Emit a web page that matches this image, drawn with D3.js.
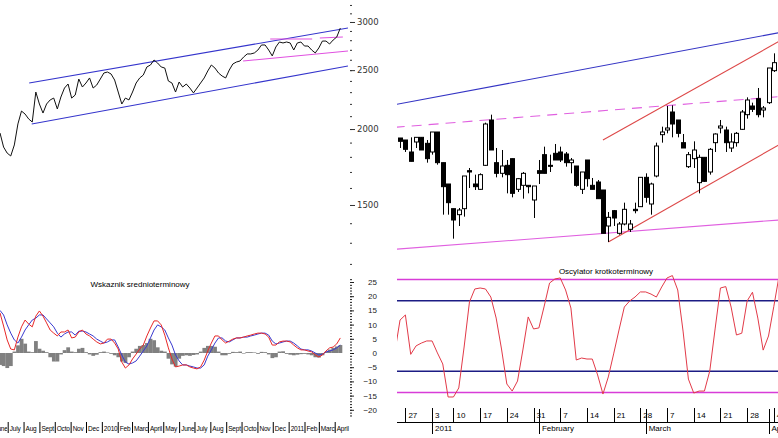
<!DOCTYPE html>
<html>
<head>
<meta charset="utf-8">
<script src="https://cdn.jsdelivr.net/npm/d3@7"></script>
<style>
  html, body { margin: 0; padding: 0; background: #fff; }
  svg { display: block; font-family: "Liberation Sans", Arial, sans-serif; }
</style>
</head>
<body>
<div id="chart"></div>
<script>
// ---- long view: weekly closes from 2009-06-15 ----
var weekStart = '2009-06-15';
var priceWeekly = [1970, 1868, 1826, 1806, 1883, 2039, 2141, 2117, 2078, 2054,
  2301, 2199, 2125, 2199, 2233, 2249, 2158, 2258, 2336, 2372,
  2249, 2275, 2417, 2345, 2381, 2427, 2336, 2363, 2417, 2473,
  2482, 2464, 2408, 2301, 2199, 2249, 2233, 2301, 2381, 2427,
  2454, 2530, 2549, 2598, 2568, 2530, 2520, 2399, 2381, 2301,
  2390, 2345, 2372, 2336, 2293, 2336, 2381, 2427, 2492, 2549,
  2520, 2473, 2445, 2427, 2501, 2559, 2578, 2588, 2627, 2658,
  2658, 2668, 2698, 2750, 2750, 2698, 2638, 2729, 2781, 2771,
  2781, 2771, 2698, 2771, 2781, 2739, 2739, 2698, 2668, 2719,
  2791, 2791, 2760, 2802, 2834, 2932];
var macdMain = [14.1, 9.5, 4.6, 1.4, 1.1, 5.6, 9.2, 11.6, 10.2, 9.2,
  13.0, 14.8, 13.0, 10.6, 8.1, 7.0, 6.0, 7.4, 7.4, 8.1,
  5.3, 5.6, 7.4, 8.1, 6.7, 6.0, 4.9, 3.9, 3.2, 3.5,
  4.9, 4.9, 3.5, 1.4, -3.2, -5.3, -4.2, -2.1, -0.4, 1.4,
  2.8, 6.0, 8.8, 11.3, 11.3, 9.9, 6.3, 1.8, -2.1, -4.9,
  -4.6, -4.2, -4.2, -4.9, -5.3, -5.6, -4.9, -2.5, 0.7, 3.5,
  6.0, 6.0, 4.6, 3.5, 4.2, 4.9, 5.3, 5.3, 5.6, 6.0,
  6.3, 6.7, 7.0, 7.0, 6.7, 5.6, 2.8, 2.8, 3.9, 4.2,
  4.2, 3.9, 2.8, 1.8, 1.1, 1.1, 0.7, 0.4, -0.7, -1.4,
  -0.7, 0.7, 1.8, 2.1, 3.2, 5.3];
var macdSignal = [15.0, 13.4, 9.9, 7.0, 4.6, 3.5, 5.6, 8.1, 9.9, 11.6,
  12.3, 13.4, 13.4, 12.0, 10.6, 9.2, 7.0, 5.6, 6.7, 7.4,
  7.4, 6.3, 7.7, 7.7, 7.4, 6.7, 6.0, 4.9, 4.2, 3.5,
  3.9, 4.6, 4.6, 2.1, -0.7, -3.2, -3.9, -3.5, -2.8, -1.1,
  0.7, 2.5, 5.3, 8.1, 9.9, 9.2, 8.1, 5.3, 2.8, -0.7,
  -2.8, -4.2, -4.2, -4.6, -4.9, -5.3, -5.3, -4.2, -1.1, 1.1,
  3.5, 5.3, 5.3, 4.2, 3.9, 4.6, 5.3, 5.3, 5.6, 5.6,
  6.0, 6.3, 6.7, 7.0, 7.0, 6.3, 4.2, 3.2, 3.5, 3.9,
  4.2, 4.2, 3.5, 2.5, 1.4, 1.1, 1.1, 0.7, 0.0, -0.7,
  -0.4, 0.4, 0.7, 1.1, 1.8, 2.8];
var macdHist = [-4.2, -4.6, -5.3, -4.6, 0.5, 2.7, 5.0, 3.3, 0.5, 0.3,
  4.2, 1.5, 0.8, 0.3, -1.5, -3.0, -3.0, -0.5, 1.0, 2.0,
  0.5, 0.3, 1.5, 1.8, 0.3, -0.5, -1.0, -0.6, 0.3, 0.5,
  0.2, -0.3, -0.8, -1.5, -3.0, -3.5, -1.5, 0.5, 1.5, 2.5,
  2.8, 3.5, 5.0, 4.5, 2.0, 0.8, 0.5, -2.0, -4.0, -4.8,
  -2.0, -1.0, -0.8, -1.0, -0.7, -0.5, 0.5, 1.8, 2.5, 2.5,
  2.2, 0.5, -0.8, -0.8, -0.3, 0.4, 0.3, 0.5, -0.2, 0.3,
  0.3, 0.2, -0.3, 0.4, 0.3, -0.5, -1.8, -1.5, 0.5, 0.6,
  -0.3, -0.6, -0.8, -0.6, -0.4, -0.3, -0.5, -0.8, -1.5, -1.6,
  -0.8, 0.4, 1.2, 1.8, 2.3, 2.8];
var priceMajor = [1500, 2000, 2500, 3000];
var macdMajor = [-20, -15, -10, -5, 0, 5, 10, 15, 20, 25];
var leftBlueLines = [
  [['2009-08-11', 2381], ['2011-04-26', 2932]],
  [['2009-08-16', 2039], ['2011-04-26', 2540]]
];
var leftPinkLines = [
  [['2010-10-03', 2588], ['2011-04-26', 2688]],
  [['2010-11-25', 2813], ['2011-02-15', 2813]],
  [['2011-03-02', 2824], ['2011-04-16', 2834]]
];

// ---- short view: daily sessions ----
var sessionFrom = '2010-12-22', sessionTo = '2011-04-06';
var holidays = ['2010-12-24', '2011-01-06'];
var candleStart = '2010-12-23';
// [open, high, low, close]
var candles = [
  [2823,2823,2808,2818], [2820,2820,2802,2806], [2802,2824,2788,2788], [2817,2824,2808,2824],
  [2824,2824,2805,2805], [2815,2820,2786,2792], [2802,2832,2798,2832], [2832,2832,2783,2786],
  [2786,2786,2708,2750], [2754,2754,2708,2726], [2717,2717,2672,2700], [2708,2718,2691,2715],
  [2717,2766,2705,2766], [2774,2778,2748,2772], [2754,2768,2745,2750], [2746,2770,2745,2768],
  [2782,2846,2781,2844], [2850,2858,2805,2805], [2786,2808,2764,2770], [2770,2805,2764,2781],
  [2782,2790,2740,2768], [2792,2792,2734,2740], [2746,2763,2742,2762], [2752,2772,2732,2770],
  [2752,2752,2740,2750], [2730,2751,2703,2751], [2774,2790,2754,2770], [2798,2810,2770,2770],
  [2782,2798,2772,2781], [2800,2814,2790,2790], [2802,2810,2787,2790], [2799,2802,2780,2786],
  [2786,2793,2770,2790], [2781,2781,2750,2752], [2746,2772,2739,2772], [2790,2790,2750,2762],
  [2752,2763,2746,2746], [2757,2760,2732,2732], [2745,2745,2680,2680], [2691,2712,2667,2704],
  [2714,2715,2691,2703], [2680,2697,2678,2694], [2694,2726,2692,2716], [2686,2700,2682,2694],
  [2716,2726,2710,2714], [2720,2764,2720,2764], [2764,2770,2726,2734], [2724,2756,2708,2754],
  [2766,2816,2764,2811], [2828,2840,2816,2832], [2835,2871,2830,2838], [2862,2872,2824,2844],
  [2850,2850,2824,2830], [2816,2829,2808,2808], [2780,2802,2778,2798], [2792,2818,2778,2805],
  [2756,2798,2740,2794], [2794,2794,2757,2758], [2772,2808,2768,2806], [2816,2830,2802,2829],
  [2838,2850,2830,2841], [2835,2840,2802,2816], [2808,2830,2802,2817], [2816,2832,2810,2830],
  [2836,2865,2835,2862], [2858,2884,2852,2880], [2871,2876,2862,2866], [2882,2898,2854,2858],
  [2865,2871,2854,2868], [2876,2928,2874,2928], [2924,2950,2922,2936]
];
var oscShort = [38, 61.3, 64.9, 37, 43, 45.0, 46.5, 46.5, 38.0, 30.2,
  6.8, 6.8, 13.2, 42.2, 74.1, 83.3, 84.0, 83.3, 77.6, 62.7,
  40.8, 16.0, 11.0, 18.1, 40.1, 63.5, 55.0, 55.7, 71.2, 87.5,
  90.4, 91.1, 82.6, 69.8, 33.0, 34.4, 33.7, 33.7, 22.4, 8.9,
  21.0, 37.3, 54.2, 70.5, 74.8, 77.6, 81.2, 81.2, 79.7, 77.6,
  84.7, 91.1, 92.8, 82.6, 53.5, 19.5, 9.6, 11.0, 11.0, 25.2,
  55.0, 84.0, 85.0, 70.5, 50.7, 52.0, 74.8, 81.0, 62.7, 40.0,
  50.0, 71.0, 93.0];
var oscOuter = [10, 90], oscInner = [25, 75];
var rightBlueLine = [['2010-12-22', 2873], ['2011-04-05', 2981]];
var rightPinkDashed = [['2010-12-22', 2839], ['2011-04-05', 2885]];
var rightPinkLine = [['2010-12-22', 2656], ['2011-04-05', 2700]];
var rightRedLines = [
  [['2011-02-17', 2820], ['2011-04-05', 2968]],
  [['2011-02-18', 2667], ['2011-04-05', 2813]]
];

var W = 778, H = 438;
var parse = d3.timeParse('%Y-%m-%d'), fmt = d3.timeFormat('%Y-%m-%d');
var monthName = d3.timeFormat('%B'), yearName = d3.timeFormat('%Y'), dayName = d3.timeFormat('%-d');

var svg = d3.select('#chart').append('svg').attr('width', W).attr('height', H);
var defs = svg.append('defs');
function clip(id, x, y, w, h) {
  defs.append('clipPath').attr('id', id).append('rect')
    .attr('x', x).attr('y', y).attr('width', w).attr('height', h);
}
clip('cl-top', 0, 0, 348, 270);
clip('cl-bot', 0, 272, 348, 148);
clip('cr-top', 397, 0, 381, 262);
clip('cr-bot', 397, 262, 381, 158);

// ================= left: long view =================
var weeks = priceWeekly.map(function(v, i) { return d3.timeWeek.offset(parse(weekStart), i); });
var xL = d3.scaleTime().domain([parse('2009-06-15'), parse('2011-04-01')]).range([0, 335.2]);
var yL = d3.scaleLog().domain([1200, 3200]).range([263.9, 4.96]);

var gl = svg.append('g').attr('clip-path', 'url(#cl-top)');
function trend(g, lines, xf, yf, color, dash) {
  g.selectAll(null).data(lines).enter().append('line')
    .attr('x1', function(d) { return xf(d[0][0]); })
    .attr('y1', function(d) { return yf(d[0][1]); })
    .attr('x2', function(d) { return xf(d[1][0]); })
    .attr('y2', function(d) { return yf(d[1][1]); })
    .attr('stroke', color).attr('stroke-width', 1.1)
    .attr('stroke-dasharray', dash || null);
}
var xLs = function(s) { return xL(parse(s)); };
trend(gl, leftBlueLines, xLs, yL, '#3434cc');
trend(gl, leftPinkLines, xLs, yL, '#e050e0');

gl.append('path')
  .attr('d', d3.line().x(function(d, i) { return xL(weeks[i]); }).y(function(d) { return yL(d); })(priceWeekly))
  .attr('fill', 'none').attr('stroke', '#111').attr('stroke-width', 1);

// price axis
var pAxisMinor = d3.axisRight(yL).tickValues(d3.range(1200, 3201, 100)).tickSize(2).tickFormat('');
var pAxisMajor = d3.axisRight(yL).tickValues(priceMajor).tickSize(5).tickPadding(2).tickFormat(d3.format('d'));
[pAxisMinor, pAxisMajor].forEach(function(ax) {
  var a = svg.append('g').attr('transform', 'translate(350,0)').call(ax);
  a.select('.domain').remove();
  a.selectAll('line').attr('stroke', '#333');
  a.selectAll('text').attr('fill', '#333').style('font-family', '"DejaVu Sans", sans-serif').style('font-size', '8.5px');
});

// mid-term oscillator
var yM = d3.scaleLinear().domain([-25, 30]).range([424, 267.8]);
var gm = svg.append('g').attr('clip-path', 'url(#cl-bot)');
var step = xL(weeks[1]) - xL(weeks[0]);
gm.selectAll('rect').data(macdHist).enter().append('rect')
  .attr('x', function(d, i) { return xL(weeks[i]) - step / 2; })
  .attr('width', step + 0.2)
  .attr('y', function(d) { return yM(Math.max(0, d)); })
  .attr('height', function(d) { return Math.abs(yM(d) - yM(0)); })
  .attr('fill', '#808080');
var lineM = d3.line().x(function(d, i) { return xL(weeks[i]); }).y(function(d) { return yM(d); });
gm.append('path').attr('d', lineM(macdSignal)).attr('fill', 'none').attr('stroke', '#3a3ad0').attr('stroke-width', 1);
gm.append('path').attr('d', lineM(macdMain)).attr('fill', 'none').attr('stroke', '#e82828').attr('stroke-width', 1);

svg.append('text').attr('x', 140).attr('y', 287).attr('text-anchor', 'middle')
  .style('font-size', '8px').text('Wskaznik srednioterminowy');

var mAxisMinor = d3.axisRight(yM).tickValues(d3.range(-22, 27)).tickSize(2).tickFormat('');
var mAxisMajor = d3.axisRight(yM).tickValues(macdMajor).tickSize(4).tickFormat(d3.format('d'));
[mAxisMinor, mAxisMajor].forEach(function(ax) {
  var a = svg.append('g').attr('transform', 'translate(350,0)').call(ax);
  a.select('.domain').remove();
  a.selectAll('line').attr('stroke', '#222');
  a.selectAll('text').attr('x', 27).attr('text-anchor', 'end').attr('fill', '#222').style('font-size', '8px');
});

// month axis (left): names shortened to the room between ticks
var months = d3.timeMonth.range(parse('2009-06-01'), parse('2011-05-01'));
var gx = svg.append('g');
months.forEach(function(m, i) {
  var x0 = xL(m), x1 = i < months.length - 1 ? xL(months[i + 1]) : 350;
  gx.append('line').attr('x1', x0).attr('x2', x0).attr('y1', 422).attr('y2', 433)
    .attr('stroke', '#000').attr('stroke-width', 1);
  var full = m.getMonth() === 0 ? yearName(m) : monthName(m);
  var t = gx.append('text').attr('x', x0 + 1.5).attr('y', 431)
    .style('font-size', '6.5px').style('letter-spacing', '-0.2px').text(full);
  var room = x1 - x0 - 2;
  if (x0 < 0) {
    t.attr('clip-path', null);
    var id = 'mclip' + i;
    defs.append('clipPath').attr('id', id).append('rect')
      .attr('x', 0).attr('y', 420).attr('width', Math.max(0, x1 - 1)).attr('height', 18);
    t.attr('clip-path', 'url(#' + id + ')');
  } else {
    var n = full.length;
    while (n > 1 && t.node().getComputedTextLength() > room) { n--; t.text(full.slice(0, n)); }
  }
});

// ================= right: short view =================
var days = d3.timeDay.range(parse(sessionFrom), parse(sessionTo)).filter(function(d) {
  return d.getDay() % 6 !== 0 && holidays.indexOf(fmt(d)) < 0;
});
var dayIndex = {};
days.forEach(function(d, i) { dayIndex[fmt(d)] = i; });
var xR = d3.scaleLinear().domain([0, days.length - 1]).range([394.7, 394.7 + 5.34 * (days.length - 1)]);
var yR = d3.scaleLinear().domain([2650, 2950]).range([253.33, 53.33]);
var xRs = function(s) { return xR(dayIndex[s]); };

var gr = svg.append('g').attr('clip-path', 'url(#cr-top)');
trend(gr, [rightBlueLine], xRs, yR, '#3434c4');
trend(gr, [rightPinkDashed], xRs, yR, '#e060e0', '10,7');
trend(gr, [rightPinkLine], xRs, yR, '#e060e0');
trend(gr, rightRedLines, xRs, yR, '#dd4848');

var c0 = dayIndex[candleStart];
var cg = gr.selectAll('g.candle').data(candles).enter().append('g');
cg.append('line')
  .attr('x1', function(d, i) { return Math.round(xR(c0 + i)) + 0.5; })
  .attr('x2', function(d, i) { return Math.round(xR(c0 + i)) + 0.5; })
  .attr('y1', function(d) { return yR(d[1]); })
  .attr('y2', function(d) { return yR(d[2]); })
  .attr('stroke', '#000').attr('stroke-width', 1);
cg.append('rect')
  .attr('x', function(d, i) { return Math.round(xR(c0 + i)) - 1.5; })
  .attr('width', 4)
  .attr('y', function(d) { return yR(Math.max(d[0], d[3])); })
  .attr('height', function(d) { return Math.max(1, Math.abs(yR(d[0]) - yR(d[3]))); })
  .attr('fill', function(d) { return d[3] < d[0] ? '#000' : '#fff'; })
  .attr('stroke', '#000').attr('stroke-width', 1);

// short-term oscillator
var yO = d3.scaleLinear().domain([0, 100]).range([406.6, 265.4]);
var go = svg.append('g').attr('clip-path', 'url(#cr-bot)');
go.selectAll('line.outer').data(oscOuter).enter().append('line')
  .attr('x1', 397).attr('x2', W).attr('y1', yO).attr('y2', yO)
  .attr('stroke', '#d83cd8').attr('stroke-width', 1.5);
go.selectAll('line.inner').data(oscInner).enter().append('line')
  .attr('x1', 397).attr('x2', W).attr('y1', yO).attr('y2', yO)
  .attr('stroke', '#1c1c84').attr('stroke-width', 1.5);
go.append('path')
  .attr('d', d3.line().x(function(d, i) { return xR(i); }).y(function(d) { return yO(d); })(oscShort))
  .attr('fill', 'none').attr('stroke', '#e23a48').attr('stroke-width', 1);

svg.append('text').attr('x', 606).attr('y', 274).attr('text-anchor', 'middle')
  .style('font-size', '8px').text('Oscylator krotkoterminowy');

// day / month axis (right)
var ga = svg.append('g');
ga.append('line').attr('x1', 397).attr('x2', W).attr('y1', 422.5).attr('y2', 422.5).attr('stroke', '#000');
var mondays = days.filter(function(d) { return d.getDay() === 1; });
ga.selectAll('line.day').data(mondays).enter().append('line')
  .attr('x1', function(d) { return Math.round(xRs(fmt(d))) + 0.5; })
  .attr('x2', function(d) { return Math.round(xRs(fmt(d))) + 0.5; })
  .attr('y1', 408).attr('y2', 422).attr('stroke', '#000');
ga.selectAll('text.day').data(mondays).enter().append('text')
  .attr('x', function(d) { return xRs(fmt(d)) + 3; })
  .attr('y', 418).style('font-size', '8px').text(dayName);
var monthStarts = days.filter(function(d, i) { return i > 0 && d.getMonth() !== days[i - 1].getMonth(); });
ga.selectAll('line.month').data(monthStarts).enter().append('line')
  .attr('x1', function(d) { return Math.round(xRs(fmt(d))) + 0.5; })
  .attr('x2', function(d) { return Math.round(xRs(fmt(d))) + 0.5; })
  .attr('y1', 409).attr('y2', 434).attr('stroke', '#000');
ga.selectAll('text.month').data(monthStarts).enter().append('text')
  .attr('x', function(d) { return xRs(fmt(d)) + 3; })
  .attr('y', 431).style('font-size', '8px')
  .text(function(d) { return d.getMonth() === 0 ? yearName(d) : monthName(d); });
</script>
</body>
</html>
